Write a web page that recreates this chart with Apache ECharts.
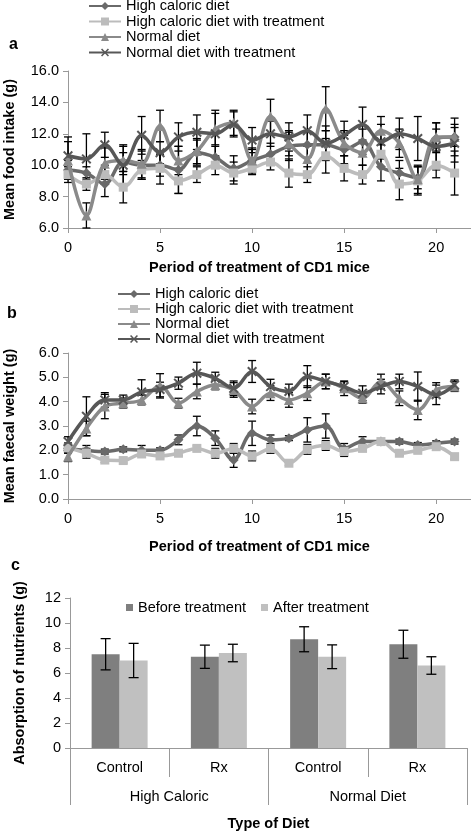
<!DOCTYPE html>
<html><head><meta charset="utf-8">
<script src="https://cdn.jsdelivr.net/npm/echarts@6/dist/echarts.min.js"></script>
<style>html,body{margin:0;padding:0;background:#fff}#c{width:471px;height:831px}</style>
</head><body><div id="c"></div>
<script>
const days = [0,1,2,3,4,5,6,7,8,9,10,11,12,13,14,15,16,17,18,19,20,21];
const seriesNames = ['High caloric diet','High caloric diet with treatment','Normal diet','Normal diet with treatment'];
const xTicks = [0,5,10,15,20];

// Panel a: mean food intake (g)
const intakeHC  = [9.7,9.5,8.8,10.2,10.0,10.0,9.7,10.8,10.5,9.8,10.3,10.7,11.2,11.3,11.3,11.0,11.5,9.9,9.5,9.2,11.7,11.8];
const intakeHCT = [9.4,8.8,9.4,8.6,9.7,9.8,9.0,9.4,10.0,9.5,9.8,10.2,9.5,9.4,10.6,9.8,9.4,10.7,8.8,9.0,10.0,9.5];
const intakeND  = [10.3,6.8,10.1,10.3,10.1,12.5,10.3,10.9,12.3,12.7,10.3,13.1,11.4,10.4,13.6,11.4,10.8,12.2,11.4,9.1,11.8,11.8];
const intakeNDT = [10.6,10.4,11.3,10.0,11.9,10.8,11.8,12.1,12.0,12.6,11.6,12.0,11.8,12.2,11.4,11.9,12.6,11.5,12.0,11.7,11.2,11.4];
const intakeErrHC  = [0.6,0.4,0.8,0.6,0.9,0.7,1.5,0.8,0.7,0.8,0.8,0.7,0.9,0.8,0.9,0.9,0.8,0.9,0.8,0.7,0.6,0.6];
const intakeErrHCT = [0.5,0.4,0.6,1.0,0.6,1.0,0.8,0.5,0.6,0.7,0.4,0.5,0.9,0.5,1.1,0.8,0.6,0.8,1.0,0.9,0.8,1.4];
const intakeErrND  = [1.2,0.8,1.0,0.9,0.9,1.0,0.9,0.8,1.0,0.8,0.7,1.1,0.8,0.9,1.4,0.8,0.8,0.9,0.9,0.9,0.9,1.2];
const intakeErrNDT = [1.2,1.6,0.8,1.3,1.2,0.7,0.9,1.1,1.5,0.8,0.8,0.8,0.9,1.0,1.1,0.9,1.1,1.1,1.0,1.4,1.5,1.2];

// Panel b: mean faecal weight (g)
const faecalHC  = [2.08,2.0,1.95,2.04,2.0,2.0,2.43,3.0,2.5,1.6,2.7,2.43,2.5,2.84,3.0,2.08,2.36,2.36,2.36,2.22,2.29,2.36];
const faecalHCT = [2.1,1.88,1.6,1.58,1.85,1.77,1.88,2.08,1.88,2.08,1.77,2.08,1.47,2.04,2.2,1.95,2.08,2.36,1.88,2.0,2.15,1.74];
const faecalND  = [1.74,2.9,3.8,3.94,4.07,4.65,3.94,4.42,4.69,4.48,3.8,4.35,4.07,4.35,4.83,4.55,4.14,4.83,4.14,3.66,4.48,4.62];
const faecalNDT = [2.36,3.4,4.07,4.07,4.4,4.5,4.76,5.17,4.96,4.55,5.24,4.62,4.42,5.03,4.83,4.62,4.35,4.62,4.83,4.62,4.28,4.69];
const faecalErrHC  = [0.2,0.2,0.1,0.1,0.2,0.1,0.2,0.4,0.3,0.3,0.5,0.2,0.1,0.5,0.5,0.2,0.2,0.1,0.1,0.1,0.1,0.1];
const faecalErrHCT = [0.2,0.2,0.1,0.1,0.1,0.1,0.1,0.1,0.2,0.2,0.2,0.2,0.1,0.2,0.2,0.2,0.1,0.1,0.1,0.1,0.1,0.1];
const faecalErrND  = [0.2,0.3,0.5,0.2,0.2,0.5,0.2,0.3,0.2,0.3,0.3,0.3,0.3,0.3,0.3,0.3,0.2,0.3,0.3,0.4,0.3,0.2];
const faecalErrNDT = [0.2,0.8,0.3,0.2,0.5,0.3,0.25,0.45,0.25,0.3,0.45,0.3,0.3,0.45,0.3,0.2,0.3,0.3,0.3,0.6,0.4,0.2];

// Panel c: absorption of nutrients (g)
const dietGroups = ['Control','Rx','Control','Rx'];
const dietTypes = ['High Caloric','Normal Diet'];
const barNames = ['Before treatment','After treatment'];
const absBefore = [7.5,7.3,8.7,8.3];
const absAfter  = [7.0,7.6,7.3,6.6];
const absErrBefore = [1.25,0.93,1.0,1.12];
const absErrAfter  = [1.37,0.7,0.95,0.7];

const colors = ['#6a6a6a','#bcbcbc','#8a8a8a','#575757'];
const xPath = 'path://M0,1.4L1.4,0L5,3.6L8.6,0L10,1.4L6.4,5L10,8.6L8.6,10L5,6.4L1.4,10L0,8.6L3.6,5Z';
const symbols = ['diamond','rect','triangle',xPath];
const symSizes = [10,9,10,10];

const chart = echarts.init(document.getElementById('c'), null, {renderer:'canvas'});
const FONT = 'Liberation Sans, Arial, sans-serif';
const FS = 14.5;

function errRender(capW, dx) {
  return function (params, api) {
    const x = api.value(0), y = api.value(1), e = api.value(2);
    const t = api.coord([x, y + e]);
    const b = api.coord([x, y - e]);
    const cx = t[0] + dx;
    const st = {stroke:'#000', lineWidth:1.3};
    return {type:'group', children:[
      {type:'line', shape:{x1:cx,y1:t[1],x2:cx,y2:b[1]}, style:st},
      {type:'line', shape:{x1:cx-capW/2,y1:t[1],x2:cx+capW/2,y2:t[1]}, style:st},
      {type:'line', shape:{x1:cx-capW/2,y1:b[1],x2:cx+capW/2,y2:b[1]}, style:st}
    ]};
  };
}

const axisGray = '#999';
function valueX(grid, gap) {
  return {
    gridIndex: grid, type:'value', min:0, max:22, interval:5,
    axisLine:{show:true, lineStyle:{color:axisGray}},
    axisTick:{show:true, length:5, lineStyle:{color:axisGray}},
    axisLabel:{showMaxLabel:false, fontSize:FS, color:'#000', margin:12, fontFamily:FONT},
    splitLine:{show:false},
    name:'Period of treatment of CD1 mice', nameLocation:'middle', nameGap:gap,
    nameTextStyle:{fontWeight:'bold', fontSize:FS, color:'#000', fontFamily:FONT, padding:[0,22,0,0]}
  };
}
function valueY(grid, min, max, interval, name, gap, dec) {
  return {
    gridIndex: grid, type:'value', min, max, interval,
    axisLine:{show:true, lineStyle:{color:axisGray}},
    axisTick:{show:true, length:5, lineStyle:{color:axisGray}},
    axisLabel:{fontSize:FS, color:'#000', margin:9, fontFamily:FONT,
      formatter: v => dec ? v.toFixed(1) : String(v)},
    splitLine:{show:false},
    name, nameLocation:'middle', nameGap:gap, nameRotate:90,
    nameTextStyle:{fontWeight:'bold', fontSize:FS, color:'#000', fontFamily:FONT}
  };
}

const series = [];
const intake = [intakeHC, intakeHCT, intakeND, intakeNDT];
const intakeErr = [intakeErrHC, intakeErrHCT, intakeErrND, intakeErrNDT];
const faecal = [faecalHC, faecalHCT, faecalND, faecalNDT];
const faecalErr = [faecalErrHC, faecalErrHCT, faecalErrND, faecalErrNDT];

[[intake, intakeErr, 0], [faecal, faecalErr, 1]].forEach(([vals, errs, g]) => {
  vals.forEach((arr, k) => {
    series.push({
      type:'custom', xAxisIndex:g, yAxisIndex:g, silent:true, z:1,
      renderItem: errRender(8, 0),
      data: days.map((d, i) => [d, arr[i], errs[k][i]])
    });
  });
  vals.forEach((arr, k) => {
    series.push({
      name: seriesNames[k], type:'line', xAxisIndex:g, yAxisIndex:g,
      smooth:0.35, symbol:symbols[k], symbolSize:symSizes[k], z:2+k,
      color:colors[k], lineStyle:{width:3.5, color:colors[k]},
      itemStyle:{color:colors[k]},
      data: days.map((d, i) => [d, arr[i]])
    });
  });
});

series.push({
  name: barNames[0], type:'bar', xAxisIndex:2, yAxisIndex:2, barWidth:28, barGap:'0%',
  itemStyle:{color:'#7f7f7f'}, data: absBefore
});
series.push({
  name: barNames[1], type:'bar', xAxisIndex:2, yAxisIndex:2, barWidth:28, barGap:'0%',
  itemStyle:{color:'#c0c0c0'}, data: absAfter
});
series.push({
  type:'custom', xAxisIndex:2, yAxisIndex:2, silent:true, z:5,
  renderItem: errRender(10, -14),
  data: absBefore.map((v, i) => [i, v, absErrBefore[i]])
});
series.push({
  type:'custom', xAxisIndex:2, yAxisIndex:2, silent:true, z:5,
  renderItem: errRender(10, 14),
  data: absAfter.map((v, i) => [i, v, absErrAfter[i]])
});

const lineLegend = (left, top, gap) => ({
  data: seriesNames, orient:'vertical', left, top, padding:0, itemWidth:32, itemHeight:10, itemGap:gap,
  textStyle:{fontSize:FS, lineHeight:13, color:'#000', fontFamily:FONT}, selectedMode:false
});

chart.setOption({
  animation:false,
  backgroundColor:'#fff',
  textStyle:{fontFamily:FONT},
  grid:[
    {left:68, top:71, width:405, height:157, outerBoundsMode:'none', containLabel:false},
    {left:68, top:353, width:405, height:146, outerBoundsMode:'none', containLabel:false},
    {left:70, top:598, width:397, height:150, outerBoundsMode:'none', containLabel:false}
  ],
  legend:[
    lineLegend(88, -1.5, 0.5),
    lineLegend(117, 286.5, 0),
    {data: barNames, left:126, top:600, padding:0, icon:'rect', itemWidth:7, itemHeight:7, itemGap:15,
     textStyle:{fontSize:FS, lineHeight:14, color:'#000', fontFamily:FONT}, selectedMode:false}
  ],
  xAxis:[
    valueX(0, 32),
    valueX(1, 40),
    {gridIndex:2, type:'category', data:dietGroups,
     axisLine:{show:true, lineStyle:{color:axisGray}},
     axisTick:{show:true, alignWithLabel:false, interval:0, length:29, lineStyle:{color:axisGray}},
     axisLabel:{fontSize:FS, color:'#000', margin:12, interval:0, fontFamily:FONT}},
    {gridIndex:2, type:'category', data:dietTypes, position:'bottom', offset:29,
     axisLine:{show:false},
     axisTick:{show:true, alignWithLabel:false, interval:0, length:28, lineStyle:{color:axisGray}},
     axisLabel:{fontSize:FS, color:'#000', margin:12, interval:0, fontFamily:FONT},
     name:'Type of Diet', nameLocation:'middle', nameGap:39,
     nameTextStyle:{fontWeight:'bold', fontSize:FS, color:'#000', fontFamily:FONT}}
  ],
  yAxis:[
    valueY(0, 6, 16, 2, 'Mean food intake (g)', 51, true),
    valueY(1, 0, 6, 1, 'Mean faecal weight (g)', 51, true),
    valueY(2, 0, 12, 2, 'Absorption of nutrients (g)', 43, false)
  ],
  graphic:[
    {type:'text', left:9, top:37, style:{text:'a', font:'bold 16px Liberation Sans, Arial', fill:'#000'}},
    {type:'text', left:7, top:306, style:{text:'b', font:'bold 16px Liberation Sans, Arial', fill:'#000'}},
    {type:'text', left:11, top:558, style:{text:'c', font:'bold 16px Liberation Sans, Arial', fill:'#000'}}
  ],
  series
});
</script></body></html>
